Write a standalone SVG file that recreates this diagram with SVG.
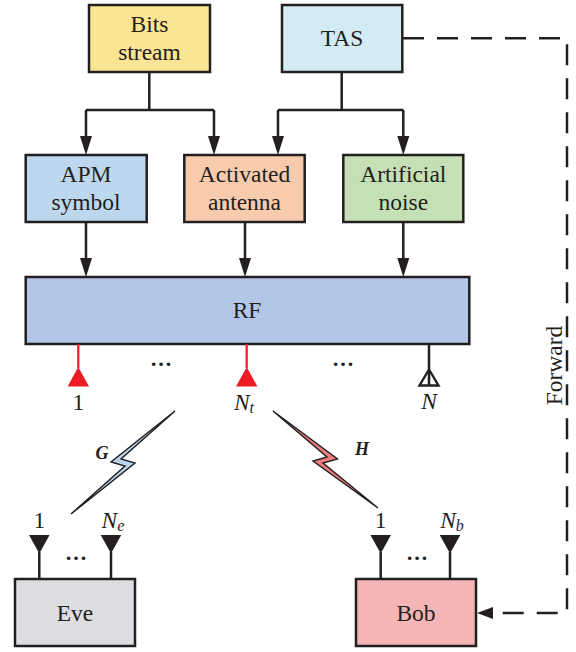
<svg xmlns="http://www.w3.org/2000/svg" width="576" height="652" viewBox="0 0 576 652">
<defs>
<style>
.box{stroke:#231f20;stroke-width:2.5}
.t{font-family:"Liberation Serif","Times New Roman",serif;font-size:23.5px;fill:#231f20;text-anchor:middle}
.it{font-style:italic}
.sub{font-size:16px;font-style:italic}
.dots{font-family:"Liberation Serif","Times New Roman",serif;font-size:22px;font-weight:bold;fill:#231f20;text-anchor:middle}
.bi{font-family:"Liberation Serif","Times New Roman",serif;font-size:18px;font-weight:bold;font-style:italic;fill:#231f20;text-anchor:middle}
.ln{fill:none;stroke:#231f20;stroke-width:2.5}
.dash{fill:none;stroke:#231f20;stroke-width:2.5;stroke-dasharray:21 13}
.ah{fill:#231f20}
.red{stroke:#ed1c24;stroke-width:2.2}
</style>
</defs>
<rect width="576" height="652" fill="#ffffff"/>

<g id="connectors">
<path class="ln" d="M149.3,72 V110 M86,110 H214 M86,110 V138 M214,110 V138"/>
<path class="ln" d="M341.7,72 V110 M278,110 H403.3 M278,110 V138 M403.3,110 V138"/>
<path class="ln" d="M86,222 V260 M245,222 V260 M403.3,222 V260"/>
<path class="ah" d="M80,136 H92 L86,155 Z M208,136 H220 L214,155 Z M272,136 H284 L278,155 Z M397.3,136 H409.3 L403.3,155 Z"/>
<path class="ah" d="M80,258 H92 L86,277 Z M239,258 H251 L245,277 Z M397.3,258 H409.3 L403.3,277 Z"/>
<path class="dash" d="M403,38.3 H567 V613 H493"/>
<path class="ah" d="M477,613 L493,607 L493,619 Z"/>
<g id="link-G">
<polygon points="175,411 111,462 125,466 71,514 135,463 121,459" fill="#b9d5ee" stroke="#231f20" stroke-width="1.4" stroke-linejoin="miter"/>
<text class="bi" x="102" y="459">G</text>
</g>
<g id="link-H">
<polygon points="273,411 337.5,459 323,463 378,508 313,461 327,457" fill="#ee7d7d" stroke="#231f20" stroke-width="1.4" stroke-linejoin="miter"/>
<text class="bi" x="362" y="455">H</text>
</g>
</g>

<g id="bits">
<rect class="box" x="89" y="5" width="121" height="67" fill="#fbe494"/>
<text class="t" x="149.5" y="32">Bits</text>
<text class="t" x="149.5" y="60">stream</text>
</g>
<g id="tas">
<rect class="box" x="282" y="5" width="120.3" height="67" fill="#d3ecf3"/>
<text class="t" x="342" y="46">TAS</text>
</g>
<g id="apm">
<rect class="box" x="25.7" y="155" width="121" height="67" fill="#bdd7ee"/>
<text class="t" x="86" y="182">APM</text>
<text class="t" x="86" y="210">symbol</text>
</g>
<g id="activated">
<rect class="box" x="184.3" y="155" width="120.4" height="67" fill="#f8cbad"/>
<text class="t" x="244.5" y="182">Activated</text>
<text class="t" x="244.5" y="210">antenna</text>
</g>
<g id="artificial">
<rect class="box" x="343.3" y="155" width="120" height="67" fill="#c5e0b4"/>
<text class="t" x="403.3" y="182">Artificial</text>
<text class="t" x="403.3" y="210">noise</text>
</g>
<g id="rf">
<rect class="box" x="25.7" y="277" width="443.6" height="67" fill="#b4c6e7"/>
<text class="t" x="247" y="318">RF</text>
<line class="red" x1="78.3" y1="344" x2="78.3" y2="368"/>
<polygon points="78.3,367 89,386.5 67.6,386.5" fill="#ed1c24"/>
<line class="red" x1="246.7" y1="344" x2="246.7" y2="368"/>
<polygon points="246.7,367 257.4,386.5 236,386.5" fill="#ed1c24"/>
<line class="ln" x1="429" y1="344" x2="429" y2="386"/>
<polygon points="429,369.5 438.5,385.5 419.5,385.5" fill="none" stroke="#231f20" stroke-width="2.4"/>
<text class="dots" x="161" y="366">…</text>
<text class="dots" x="343" y="366">…</text>
<text class="t" x="78.3" y="410">1</text>
<text class="t it" x="244" y="410">N<tspan class="sub" dy="3">t</tspan></text>
<text class="t it" x="429" y="409">N</text>
</g>
<g id="forward-label">
<text class="t" transform="translate(561.5,365.5) rotate(-90)" x="0" y="0">Forward</text>
</g>
<g id="eve">
<rect class="box" x="15" y="579" width="120" height="67" fill="#dcdde0"/>
<text class="t" x="75" y="621">Eve</text>
<line class="ln" x1="39.3" y1="552" x2="39.3" y2="579"/>
<polygon points="29,535 49.6,535 39.3,553.5" fill="#231f20"/>
<line class="ln" x1="111" y1="552" x2="111" y2="579"/>
<polygon points="100.7,535 121.3,535 111,553.5" fill="#231f20"/>
<text class="dots" x="76" y="560">…</text>
<text class="t" x="39.3" y="528">1</text>
<text class="t it" x="113" y="528">N<tspan class="sub" dy="3">e</tspan></text>
</g>
<g id="bob">
<rect class="box" x="356" y="579" width="120" height="67" fill="#f5b5b6"/>
<text class="t" x="416" y="621">Bob</text>
<line class="ln" x1="380.7" y1="552" x2="380.7" y2="579"/>
<polygon points="370.4,535 391,535 380.7,553.5" fill="#231f20"/>
<line class="ln" x1="450" y1="552" x2="450" y2="579"/>
<polygon points="439.7,535 460.3,535 450,553.5" fill="#231f20"/>
<text class="dots" x="417" y="560">…</text>
<text class="t" x="380.7" y="528">1</text>
<text class="t it" x="452" y="528">N<tspan class="sub" dy="3">b</tspan></text>
</g>
</svg>
